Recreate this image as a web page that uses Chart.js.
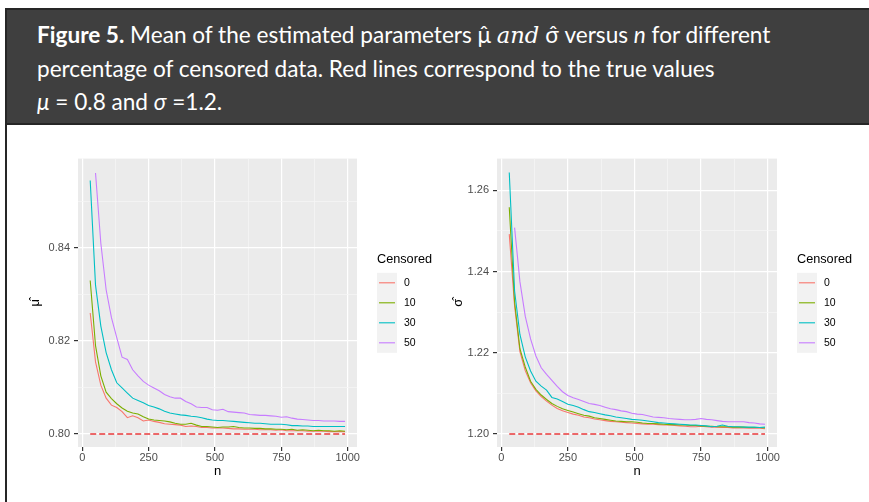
<!DOCTYPE html>
<html>
<head>
<meta charset="utf-8">
<script src="https://cdn.jsdelivr.net/npm/chart.js@4.4.1/dist/chart.umd.min.js"></script>
<style>
  html, body { margin: 0; padding: 0; background: #fff; width: 869px; height: 502px; overflow: hidden; }
  #frame {
    position: absolute; left: 5px; top: 8px; width: 900px; height: 520px;
    border-left: 2px solid #262626; border-top: 2px solid #262626; box-sizing: border-box;
  }
  #caption {
    position: absolute; left: 0; top: 0; right: 0; height: 115px;
    background: #3f3f3f; border-bottom: 2px solid #262626;
    color: #fff; font-family: Lato, "Open Sans", sans-serif; font-size: 22.6px;
    line-height: 33px; padding: 8px 0 0 30px; box-sizing: border-box; white-space: nowrap;
  }
  #caption .m { font-family: "DejaVu Serif", serif; }
  canvas { position: absolute; }
</style>
</head>
<body>
<div id="frame">
  <div id="caption"><b>Figure 5.</b> Mean of the estimated parameters &mu;&#770; <i class="m">and</i> &sigma;&#770; versus <i>n</i> for different<br>percentage of censored data. Red lines correspond to the true values<br><i>&mu;</i> = 0.8 and <i>&sigma;</i> =1.2.</div>
</div>
<canvas id="mu-chart" width="420" height="342" style="left:20px;top:148px"></canvas>
<canvas id="sigma-chart" width="429" height="342" style="left:440px;top:148px"></canvas>
<script>
// sample sizes used in the simulation
const nValues = [30, 50, 70, 90, 110, 130, 150, 170, 190, 210, 230, 250, 270, 290, 310, 330, 350,
  370, 390, 410, 430, 450, 470, 490, 510, 530, 550, 570, 590, 610, 630, 650, 670, 690, 710, 730,
  750, 770, 790, 810, 830, 850, 870, 890, 910, 930, 950, 970, 990];

const censLevels = ['0', '10', '30', '50'];
const censColors = ['#F8766D', '#7CAE00', '#00BFC4', '#C77CFF'];

// mean of mu-hat per censoring level
const muCens0 = [0.8260, 0.8155, 0.8105, 0.8077, 0.8062, 0.8057, 0.8048, 0.8035, 0.8039, 0.8035,
  0.8028, 0.8030, 0.8027, 0.8025, 0.8022, 0.8021, 0.8020, 0.8019, 0.8016, 0.8017, 0.8016, 0.8014,
  0.8014, 0.8013, 0.8013, 0.8013, 0.8012, 0.8011, 0.8011, 0.8010, 0.8010, 0.8010, 0.8009, 0.8009,
  0.8009, 0.8008, 0.8009, 0.8007, 0.8007, 0.8007, 0.8007, 0.8006, 0.8006, 0.8006, 0.8006, 0.8005,
  0.8005, 0.8005, 0.8005];
const muCens10 = [0.8330, 0.8190, 0.8125, 0.8090, 0.8076, 0.8065, 0.8056, 0.8049, 0.8045, 0.8043,
  0.8037, 0.8032, 0.8030, 0.8029, 0.8028, 0.8026, 0.8023, 0.8021, 0.8021, 0.8023, 0.8019, 0.8016,
  0.8016, 0.8015, 0.8014, 0.8015, 0.8015, 0.8016, 0.8014, 0.8013, 0.8013, 0.8012, 0.8012, 0.8011,
  0.8011, 0.8010, 0.8010, 0.8009, 0.8010, 0.8008, 0.8009, 0.8008, 0.8007, 0.8008, 0.8007, 0.8007,
  0.8006, 0.8007, 0.8006];
const muCens30 = [0.8545, 0.8320, 0.8232, 0.8175, 0.8138, 0.8110, 0.8099, 0.8088, 0.8077, 0.8072,
  0.8067, 0.8061, 0.8058, 0.8054, 0.8049, 0.8045, 0.8043, 0.8041, 0.8040, 0.8038, 0.8037, 0.8035,
  0.8032, 0.8030, 0.8029, 0.8029, 0.8028, 0.8027, 0.8026, 0.8025, 0.8024, 0.8023, 0.8023, 0.8022,
  0.8021, 0.8021, 0.8021, 0.8020, 0.8018, 0.8018, 0.8017, 0.8017, 0.8016, 0.8016, 0.8016, 0.8016,
  0.8016, 0.8016, 0.8016];
const muCens50 = [null, 0.8561, 0.8410, 0.8310, 0.8250, 0.8207, 0.8165, 0.8160, 0.8138, 0.8125,
  0.8113, 0.8105, 0.8099, 0.8093, 0.8085, 0.8080, 0.8077, 0.8077, 0.8070, 0.8065, 0.8058, 0.8057,
  0.8057, 0.8052, 0.8051, 0.8053, 0.8048, 0.8047, 0.8046, 0.8045, 0.8042, 0.8041, 0.8040, 0.8040,
  0.8039, 0.8038, 0.8036, 0.8037, 0.8034, 0.8032, 0.8031, 0.8030, 0.8029, 0.8029, 0.8028, 0.8028,
  0.8028, 0.8027, 0.8027];

// mean of sigma-hat per censoring level
const sigmaCens0 = [1.2492, 1.2315, 1.2203, 1.2156, 1.2126, 1.2106, 1.2092, 1.2081, 1.2071, 1.2063,
  1.2057, 1.2053, 1.2049, 1.2046, 1.2042, 1.2040, 1.2037, 1.2035, 1.2033, 1.2031, 1.2030, 1.2029,
  1.2028, 1.2027, 1.2026, 1.2025, 1.2024, 1.2024, 1.2023, 1.2022, 1.2022, 1.2021, 1.2020, 1.2019,
  1.2018, 1.2018, 1.2019, 1.2018, 1.2017, 1.2017, 1.2016, 1.2016, 1.2015, 1.2015, 1.2015, 1.2014,
  1.2014, 1.2014, 1.2013];
const sigmaCens10 = [1.2558, 1.2325, 1.2210, 1.2165, 1.2130, 1.2110, 1.2096, 1.2085, 1.2075, 1.2068,
  1.2062, 1.2058, 1.2054, 1.2050, 1.2046, 1.2044, 1.2040, 1.2038, 1.2036, 1.2034, 1.2032, 1.2031,
  1.2030, 1.2030, 1.2029, 1.2027, 1.2026, 1.2026, 1.2025, 1.2024, 1.2023, 1.2023, 1.2022, 1.2022,
  1.2021, 1.2021, 1.2020, 1.2019, 1.2019, 1.2018, 1.2018, 1.2018, 1.2017, 1.2017, 1.2017, 1.2016,
  1.2016, 1.2016, 1.2015];
const sigmaCens30 = [1.2644, 1.2352, 1.2245, 1.2190, 1.2155, 1.2130, 1.2118, 1.2108, 1.2090, 1.2086,
  1.2080, 1.2073, 1.2070, 1.2066, 1.2060, 1.2055, 1.2053, 1.2050, 1.2047, 1.2045, 1.2042, 1.2040,
  1.2038, 1.2036, 1.2035, 1.2034, 1.2032, 1.2030, 1.2028, 1.2027, 1.2026, 1.2025, 1.2024, 1.2023,
  1.2022, 1.2022, 1.2021, 1.2020, 1.2018, 1.2019, 1.2022, 1.2019, 1.2018, 1.2018, 1.2017, 1.2017,
  1.2017, 1.2016, 1.2017];
const sigmaCens50 = [null, 1.2508, 1.2375, 1.2290, 1.2234, 1.2192, 1.2163, 1.2147, 1.2132, 1.2117,
  1.2104, 1.2095, 1.2089, 1.2085, 1.2080, 1.2075, 1.2073, 1.2070, 1.2066, 1.2062, 1.2060, 1.2057,
  1.2055, 1.2051, 1.2049, 1.2048, 1.2045, 1.2042, 1.2041, 1.2040, 1.2038, 1.2037, 1.2036, 1.2035,
  1.2035, 1.2036, 1.2038, 1.2036, 1.2035, 1.2033, 1.2031, 1.2030, 1.2030, 1.2030, 1.2030, 1.2028,
  1.2027, 1.2025, 1.2024];

// true parameter values (dashed reference lines)
const trueN = [30, 990];
const muTrue = [0.8, 0.8];
const sigmaTrue = [1.2, 1.2];

const FONT = '"Liberation Sans", Arial, sans-serif';

// grey panel like ggplot's theme_gray
const panelBackground = {
  id: 'panelBackground',
  beforeDraw(chart) {
    const { ctx, chartArea: a } = chart;
    ctx.save();
    ctx.fillStyle = '#ebebeb';
    ctx.fillRect(a.left, a.top, a.right - a.left, a.bottom - a.top);
    ctx.restore();
  },
};

// legend with grey key boxes, placed to the right of the panel
const censoredLegend = {
  id: 'censoredLegend',
  afterDraw(chart) {
    const { ctx, chartArea: a } = chart;
    const x = a.right + 20;
    const mid = (a.top + a.bottom) / 2;
    const keyTop = mid - 30;
    const series = chart.data.datasets.filter((d) => !d.isTrueValue);

    ctx.save();
    ctx.textBaseline = 'middle';
    ctx.fillStyle = '#000';
    ctx.font = '12.7px ' + FONT;
    ctx.fillText('Censored', x, mid - 43);

    ctx.fillStyle = '#f2f2f2';
    ctx.fillRect(x, keyTop, 20, 20 * series.length);

    ctx.font = '10.5px ' + FONT;
    series.forEach((ds, i) => {
      const cy = keyTop + 10 + 20 * i;
      ctx.strokeStyle = ds.borderColor;
      ctx.lineWidth = 1.1;
      ctx.beginPath();
      ctx.moveTo(x + 2, cy);
      ctx.lineTo(x + 18, cy);
      ctx.stroke();
      ctx.fillStyle = '#000';
      ctx.fillText(ds.label, x + 27, cy);
    });
    ctx.restore();
  },
};

function toPoints(xs, ys) {
  return xs.map((x, i) => ({ x: x, y: ys[i] }));
}

const isMajorX = (v) => Math.round(v) % 250 === 0;
const isMajorY = (v) => Math.round(v * 100) % 2 === 0;

/**
 * Builds one ggplot-style panel
 */
function drawPanel(id, seriesValues, trueValues, yMin, yMax, yTitle, opts) {
  const datasets = seriesValues.map((vals, i) => ({
    label: censLevels[i],
    data: toPoints(nValues, vals),
    borderColor: censColors[i],
    borderWidth: 1.1,
    order: seriesValues.length - i,
  }));
  datasets.push({
    label: 'true',
    isTrueValue: true,
    data: toPoints(trueN, trueValues),
    borderColor: '#e8383a',
    borderWidth: 1.6,
    borderDash: [6, 3],
    order: 0,
  });

  return new Chart(document.getElementById(id).getContext('2d'), {
    type: 'line',
    data: { datasets: datasets },
    options: {
      responsive: false,
      animation: false,
      devicePixelRatio: 1,
      layout: { padding: { left: 0, top: 6, right: opts.right, bottom: 3 } },
      elements: { point: { radius: 0 }, line: { tension: 0 } },
      plugins: { legend: { display: false }, tooltip: { enabled: false } },
      scales: {
        x: {
          type: 'linear',
          min: -16,
          max: 1035,
          border: { display: false },
          grid: {
            color: (c) => (isMajorX(c.tick.value) ? '#ffffff' : '#f5f5f5'),
            lineWidth: (c) => (isMajorX(c.tick.value) ? 1.2 : 0.8),
            tickColor: (c) => (isMajorX(c.tick.value) ? '#333333' : 'rgba(0,0,0,0)'),
            tickLength: 4,
          },
          ticks: {
            stepSize: 125,
            includeBounds: false,
            autoSkip: false,
            maxRotation: 0,
            padding: 0,
            color: '#4d4d4d',
            font: { family: FONT, size: 11 },
            callback: (v) => (isMajorX(v) ? String(Math.round(v)) : ''),
          },
          title: {
            display: true,
            text: 'n',
            color: '#000',
            font: { family: FONT, size: 13 },
            padding: { top: 0, bottom: 8 },
          },
          afterFit: (s) => { s.height = 40; },
        },
        y: {
          type: 'linear',
          min: yMin,
          max: yMax,
          border: { display: false },
          grid: {
            color: (c) => (isMajorY(c.tick.value) ? '#ffffff' : '#f5f5f5'),
            lineWidth: (c) => (isMajorY(c.tick.value) ? 1.2 : 0.8),
            tickColor: (c) => (isMajorY(c.tick.value) ? '#333333' : 'rgba(0,0,0,0)'),
            tickLength: 4,
          },
          ticks: {
            stepSize: 0.01,
            includeBounds: false,
            autoSkip: false,
            padding: 4,
            color: '#4d4d4d',
            font: { family: FONT, size: 11 },
            callback: (v) => (isMajorY(v) ? v.toFixed(2) : ''),
          },
          title: {
            display: true,
            text: yTitle,
            color: '#000',
            font: { family: FONT, size: 13 },
            padding: { top: opts.titlePad, bottom: 0 },
          },
          afterFit: (s) => { s.width = opts.axisWidth; },
        },
      },
    },
    plugins: [panelBackground, censoredLegend],
  });
}

drawPanel('mu-chart', [muCens0, muCens10, muCens30, muCens50], muTrue,
  0.7972, 0.8592, '\u03BC\u0302', { right: 83, axisWidth: 58, titlePad: 8 });
drawPanel('sigma-chart', [sigmaCens0, sigmaCens10, sigmaCens30, sigmaCens50], sigmaTrue,
  1.1968, 1.2678, '\u03C3\u0302', { right: 92, axisWidth: 57, titlePad: 11 });
</script>
</body>
</html>
